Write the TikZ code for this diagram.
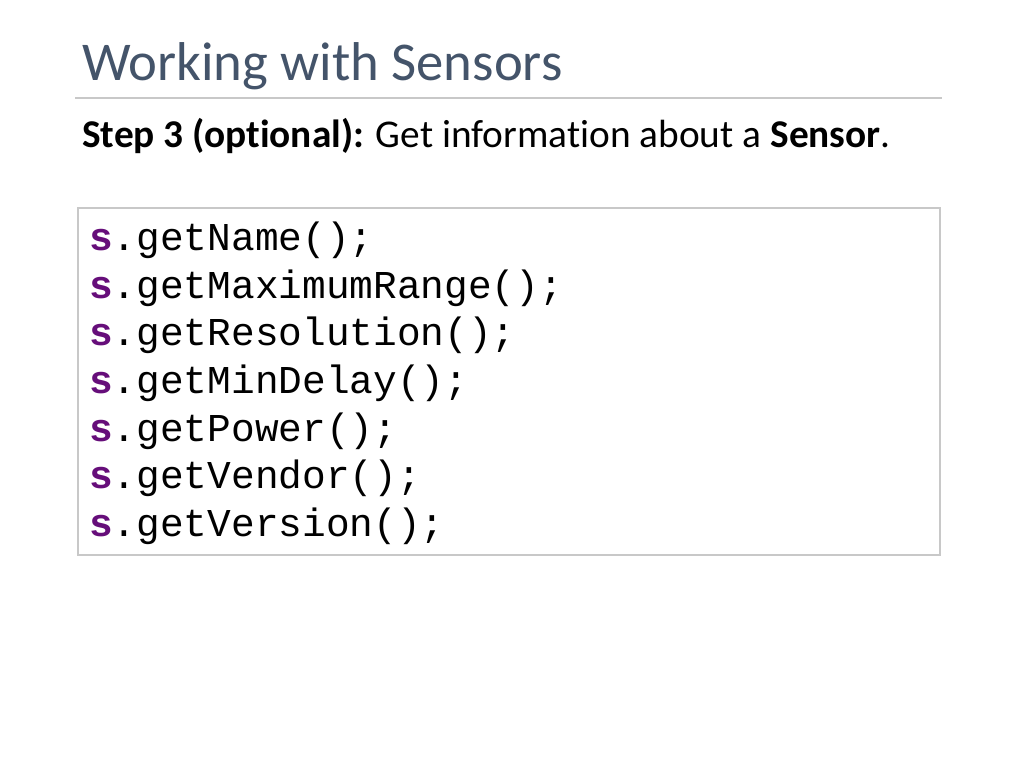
\documentclass[tikz,border=0pt]{standalone}
\usepackage{fontspec}
\setmainfont[Ligatures=NoCommon]{Carlito}
\setmonofont{Liberation Mono}
\usetikzlibrary{positioning}
\definecolor{titlegray}{HTML}{44546A}
\definecolor{keypurple}{HTML}{660E7A}
\definecolor{rulegray}{HTML}{C8C8C8}
\begin{document}
\begin{tikzpicture}[x=0.75pt,y=-0.75pt]
			\tikzset{codeline/.style={anchor=base west, inner sep=0pt, font=\fontsize{29.6}{34}\ttfamily}}
			\useasboundingbox[fill=white] (0,0) rectangle (1024,768);
			\node [anchor=base west, inner sep=0pt, text=titlegray, font=\fontsize{41}{46}\selectfont] (title) at (82,80) {Working with Sensors};
			\draw [line width=0.8pt, rulegray] (75,98) -- (942,98);
			\node [anchor=base west, inner sep=0pt, font=\fontsize{29.5}{34}\selectfont] (stepline) at (82,147) {\textbf{Step 3 (optional):} Get information about a \textbf{Sensor}.};
			\draw [line width=0.8pt, rulegray] (78,208) rectangle (940,555);
			\node [codeline] (l1) at (89,250) {\textcolor{keypurple}{\textbf{s}}.getName();};
			\node [codeline] (l2) at (89,298) {\textcolor{keypurple}{\textbf{s}}.getMaximumRange();};
			\node [codeline] (l3) at (89,345) {\textcolor{keypurple}{\textbf{s}}.getResolution();};
			\node [codeline] (l4) at (89,393) {\textcolor{keypurple}{\textbf{s}}.getMinDelay();};
			\node [codeline] (l5) at (89,441) {\textcolor{keypurple}{\textbf{s}}.getPower();};
			\node [codeline] (l6) at (89,488) {\textcolor{keypurple}{\textbf{s}}.getVendor();};
			\node [codeline] (l7) at (89,536) {\textcolor{keypurple}{\textbf{s}}.getVersion();};
		\end{tikzpicture}
\end{document}
